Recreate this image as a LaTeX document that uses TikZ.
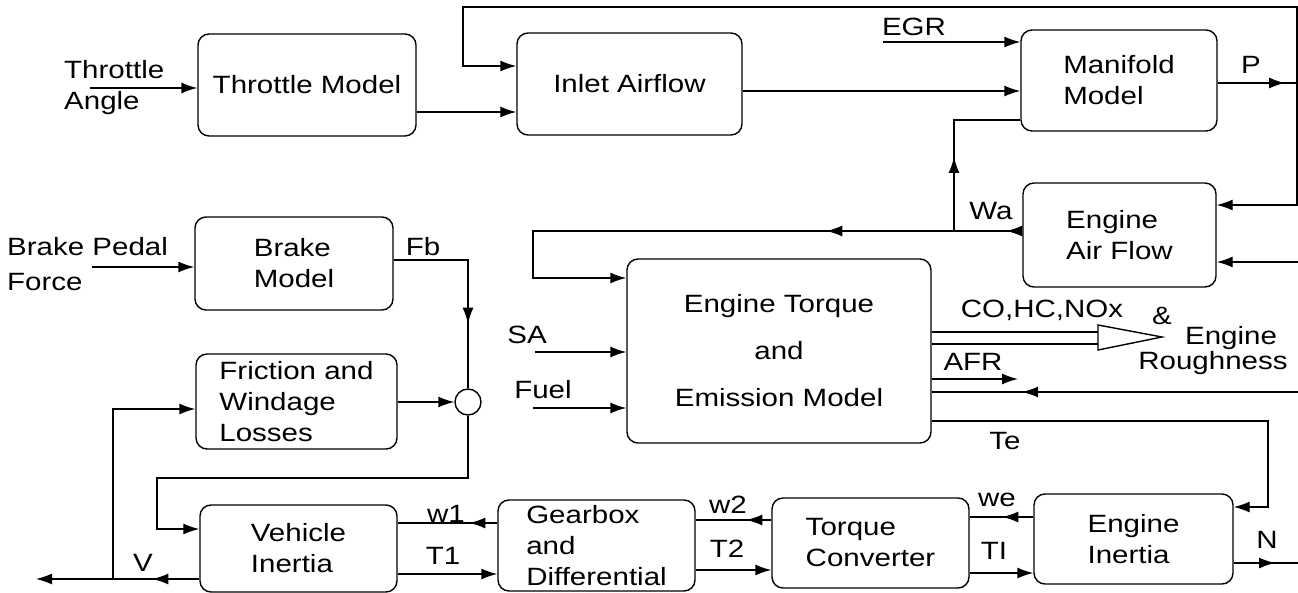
\documentclass[tikz,border=0pt]{standalone}
\usepackage{fontspec}
\setmainfont{Liberation Sans}[FakeStretch=1.18]
\usetikzlibrary{arrows.meta,decorations.markings}
\tikzset{
  ln/.style={line width=1.4pt},
  arr/.style={line width=1.4pt,-{Latex[length=16pt,width=11pt]}},
  marr/.style={line width=1.4pt,postaction={decorate},decoration={markings,mark=at position #1 with {\arrow{Latex[length=16pt,width=11pt]}}}},
  blk/.style={draw,line width=1.4pt,rounded corners=11pt,inner sep=0pt,align=left,font=\fontsize{25}{31}\selectfont},
  lbl/.style={inner sep=0pt,font=\fontsize{25}{31}\selectfont},
}
\begin{document}
\begin{tikzpicture}[x=1pt,y=-1pt]
\fill[white] (0,0) rectangle (1298,593);
\useasboundingbox (0,0) rectangle (1298,593);
% boxes
\node[blk,minimum width=218pt,minimum height=102pt] (thr) at (307,85) {Throttle Model};
\node[blk,minimum width=225pt,minimum height=102pt] (inl) at (629.5,84) {Inlet Airflow};
\node[blk,minimum width=196pt,minimum height=101pt] (man) at (1119,80.5) {Manifold\\Model};
\node[blk,minimum width=193pt,minimum height=104pt] (eaf) at (1119.5,235) {Engine\\Air Flow};
\node[blk,minimum width=198pt,minimum height=93pt] (brk) at (294,263.5) {Brake\\Model};
\node[blk,minimum width=201pt,minimum height=95pt] (fri) at (296.5,401.5) {Friction and\\Windage\\Losses};
\node[draw,line width=1.4pt,circle,minimum size=26pt,inner sep=0pt] (sum) at (468,402) {};
\node[blk,align=center,minimum width=304pt,minimum height=184pt,font=\fontsize{25}{47}\selectfont] (etq) at (779,351) {Engine Torque\\and\\Emission Model};
\node[blk,minimum width=197pt,minimum height=87pt] (veh) at (298.5,548.5) {Vehicle\\Inertia};
\node[blk,minimum width=197pt,minimum height=91pt] (gbx) at (596.5,545.5) {Gearbox\\and\\Differential};
\node[blk,minimum width=197pt,minimum height=90pt] (tqc) at (870.5,543) {Torque\\Converter};
\node[blk,minimum width=199pt,minimum height=90pt] (ein) at (1133.5,539) {Engine\\Inertia};
% labels
\node[lbl,anchor=west,align=left] (tatxt) at (64,88) {Throttle\\Angle};
\node[lbl,anchor=west,align=left,font=\fontsize{25}{35}\selectfont] (bptxt) at (7,264) {Brake Pedal\\Force};
\node[lbl] (egrtxt) at (914,27) {EGR};
\node[lbl] (ptxt) at (1251,65) {P};
\node[lbl] (watxt) at (991,211) {Wa};
\node[lbl] (satxt) at (527,335) {SA};
\node[lbl] (futxt) at (543,390) {Fuel};
\node[lbl] (fbtxt) at (423,247) {Fb};
\node[lbl] (cotxt) at (1042,310) {CO,HC,NOx};
\node[lbl] (amptxt) at (1162,316) {\&};
\node[lbl,align=center,font=\fontsize{25}{25}\selectfont] (ertxt) at (1213,351) {\hspace*{36pt}Engine\\Roughness};
\node[lbl] (afrtxt) at (973,362) {AFR};
\node[lbl] (tetxt) at (1005,441) {Te};
\node[lbl] (ntxt) at (1267,540) {N};
\node[lbl] (wetxt) at (997,500) {we};
\node[lbl] (titxt) at (994,551) {TI};
\node[lbl] (w2txt) at (728,505) {w2};
\node[lbl] (t2txt) at (727,549) {T2};
\node[lbl] (w1txt) at (446,514) {w1};
\node[lbl] (t1txt) at (443,556) {T1};
\node[lbl] (vtxt) at (143,563) {V};
% free ends and junctions
\coordinate (ta0) at (90,88);
\coordinate (bp0) at (92,267);
\coordinate (egr0) at (883,42);
\coordinate (pj) at (1297,83);
\coordinate (r262) at (1298,262);
\coordinate (r392) at (1298,392);
\coordinate (sa0) at (535,352);
\coordinate (fu0) at (533,408);
\coordinate (afr1) at (1018,379);
\coordinate (n1) at (1298,563);
\coordinate (v1) at (36,579);
\coordinate (vj) at (113,579);
\coordinate (wj) at (954,231);
\coordinate (tri) at (1098,337);
% connectors top
\draw[arr] (ta0) -- (thr.west |- ta0);
\draw[arr] (thr.east |- 0,112) -- (inl.west |- 0,112);
\draw[arr] (pj) -- (1297,7) -- (463,7) -- (463,66) -- (inl.west |- 0,66);
\draw[arr] (inl.east |- 0,91) -- (man.west |- 0,91);
\draw[arr] (egr0) -- (man.west |- egr0);
\draw[marr=-12pt] (man.east |- pj) -- (pj);
\draw[arr] (pj) -- (1297,205) -- (eaf.east |- 0,205);
\draw[arr] (r262) -- (eaf.east |- r262);
% Wa
\draw[arr,postaction={decorate},decoration={markings,mark=at position 16pt with {\arrow{Latex[length=16pt,width=11pt]}},mark=at position 196pt with {\arrow{Latex[length=16pt,width=11pt]}}}] (eaf.west |- wj) -- (533,231) -- (533,278) -- (etq.west |- 0,278);
\draw[marr=74pt] (wj) -- (954,120) -- (man.west |- 0,120);
% engine torque inputs
\draw[arr] (sa0) -- (etq.west |- sa0);
\draw[arr] (fu0) -- (etq.west |- fu0);
% emissions
\draw[ln] (etq.east |- 0,332) -- (1098,332);
\draw[ln] (etq.east |- 0,344) -- (1098,344);
\draw[ln,line join=miter] (1098,325) -- (1162,337) -- (1098,350) -- cycle;
\draw[arr] (etq.east |- afr1) -- (afr1);
\draw[marr=276pt] (r392) -- (etq.east |- r392);
\draw[arr] (etq.east |- 0,421) -- (1268,421) -- (1268,507) -- (ein.east |- 0,507);
% bottom chain
\draw[marr=-23pt] (ein.east |- n1) -- (n1);
\draw[marr=31pt] (ein.west |- 0,517) -- (tqc.east |- 0,517);
\draw[arr] (tqc.east |- 0,573) -- (ein.west |- 0,573);
\draw[marr=25pt] (tqc.west |- 0,520) -- (gbx.east |- 0,520);
\draw[arr] (gbx.east |- 0,570) -- (tqc.west |- 0,570);
\draw[marr=28pt] (gbx.west |- 0,523) -- (veh.east |- 0,523);
\draw[arr] (veh.east |- 0,574) -- (gbx.west |- 0,574);
\draw[arr,postaction={decorate},decoration={markings,mark=at position 47pt with {\arrow{Latex[length=16pt,width=11pt]}}}] (veh.west |- v1) -- (v1);
\draw[arr] (vj) -- (113,409) -- (fri.west |- 0,409);
% brake
\draw[arr] (bp0) -- (brk.west |- bp0);
\draw[marr=138pt] (brk.east |- 0,260) -- (468,260) -- (sum.north);
\draw[arr] (fri.east |- sum) -- (sum.west);
\draw[arr] (sum.south) -- (468,478) -- (157,478) -- (157,529) -- (veh.west |- 0,529);
\end{tikzpicture}
\end{document}
